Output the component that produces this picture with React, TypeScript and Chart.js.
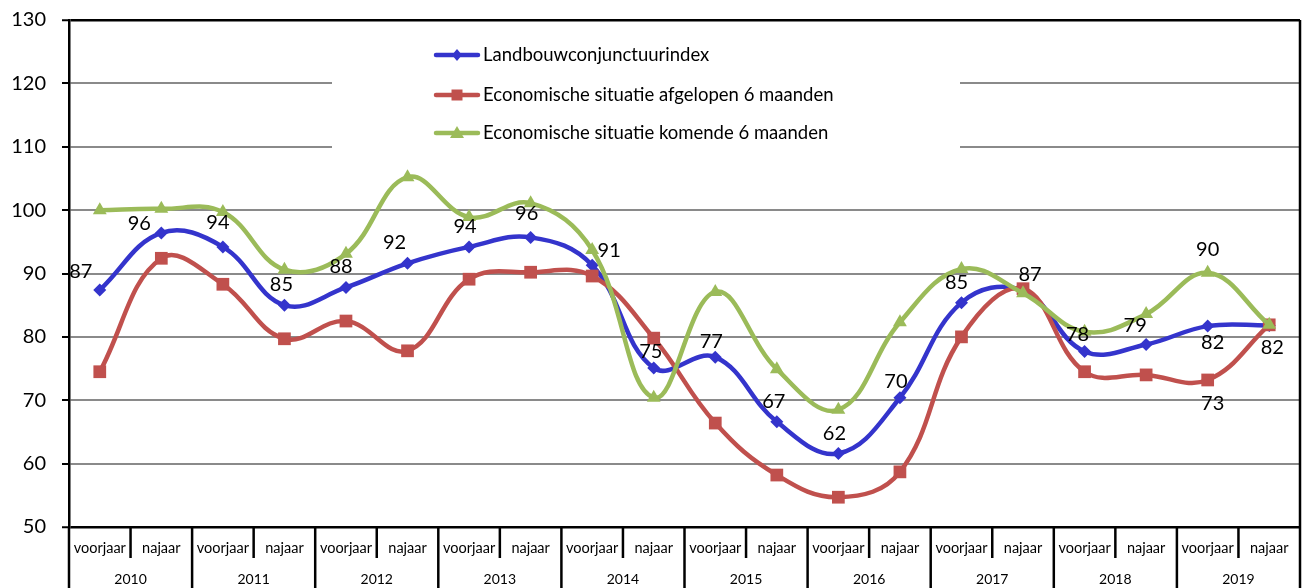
import React, { useEffect, useRef } from 'react';
import { Chart, registerables } from 'chart.js';

Chart.register(...registerables);

// ---------- data ----------
const years = ['2010', '2011', '2012', '2013', '2014', '2015', '2016', '2017', '2018', '2019'];
const seasons = ['voorjaar', 'najaar'];

const seriesNames = [
  'Landbouwconjunctuurindex',
  'Economische situatie afgelopen 6 maanden',
  'Economische situatie komende 6 maanden',
];

const landbouwIndex = [87.4, 96.4, 94.2, 85.0, 87.8, 91.6, 94.2, 95.7, 91.3, 75.1, 76.8, 66.6, 61.6, 70.4, 85.4, 87.3, 77.7, 78.8, 81.7, 81.8];
const afgelopen = [74.5, 92.4, 88.3, 79.7, 82.5, 77.8, 89.1, 90.2, 89.6, 79.8, 66.4, 58.2, 54.7, 58.7, 80.0, 87.6, 74.5, 74.0, 73.2, 81.9];
const komende = [100.0, 100.2, 99.7, 90.6, 93.1, 105.2, 98.9, 101.1, 93.7, 70.4, 87.1, 74.9, 68.5, 82.3, 90.7, 86.9, 80.8, 83.6, 90.1, 81.9];

const yMin = 50;
const yMax = 130;
const yStep = 10;

// ---------- styles ----------
const colors = ['#3434CC', '#C0504D', '#9BBB59'];
const pointStyles = ['rectRot', 'rect', 'triangle'];
const pointRadii = [6.5, 9, 8];
const FONT = 'Lato, "Open Sans", sans-serif';

// data label placement: [datasetIndex, pointIndex, dx, dy]
const labelPlacement: [number, number, number, number][] = [
  [0, 0, -19, -18], [0, 1, -22, -9], [0, 2, -5, -24], [0, 3, -3, -21], [0, 4, -5, -21],
  [0, 5, -13, -21], [0, 6, -4, -20], [0, 7, -4, -24], [0, 8, 17, -15], [0, 9, -3, -16],
  [0, 10, -4, -16], [0, 11, -3, -20], [0, 12, -4, -20], [0, 13, -4, -16], [0, 14, -5, -20],
  [0, 15, 7, -16], [0, 16, -7, -17], [0, 17, -11, -19], [0, 18, 5, 16], [0, 19, 3, 22],
  [2, 18, 0, -23], [1, 18, 5, 24],
];

const legendPlugin = {
  id: 'boxLegend',
  beforeDatasetsDraw(chart: any) {
    const ctx = chart.ctx;
    const ca = chart.chartArea;
    const x0 = ca.left + 263;
    const w = 628;
    ctx.save();
    ctx.fillStyle = '#ffffff';
    ctx.fillRect(x0, 32, w, 146);
    const rows = [55, 95, 133];
    rows.forEach((ry, i) => {
      ctx.strokeStyle = colors[i];
      ctx.lineWidth = 4.5;
      ctx.lineCap = 'round';
      ctx.beginPath();
      ctx.moveTo(x0 + 104, ry);
      ctx.lineTo(x0 + 146, ry);
      ctx.stroke();
      ctx.fillStyle = colors[i];
      const cx = x0 + 125;
      ctx.beginPath();
      if (i === 0) {
        ctx.moveTo(cx, ry - 6); ctx.lineTo(cx + 5, ry); ctx.lineTo(cx, ry + 6); ctx.lineTo(cx - 5, ry);
      } else if (i === 1) {
        ctx.rect(cx - 5.5, ry - 5.5, 11, 11);
      } else {
        ctx.moveTo(cx, ry - 7); ctx.lineTo(cx + 7, ry + 5); ctx.lineTo(cx - 7, ry + 5);
      }
      ctx.closePath();
      ctx.fill();
      ctx.fillStyle = '#000';
      ctx.font = `18.5px ${FONT}`;
      ctx.textAlign = 'left';
      ctx.textBaseline = 'middle';
      ctx.fillText(seriesNames[i], x0 + 151, ry);
    });
    ctx.restore();
  },
};

const labelsPlugin = {
  id: 'pointLabels',
  afterDatasetsDraw(chart: any) {
    const ctx = chart.ctx;
    ctx.save();
    ctx.fillStyle = '#000';
    ctx.font = `20px ${FONT}`;
    ctx.textAlign = 'center';
    ctx.textBaseline = 'middle';
    labelPlacement.forEach(([ds, idx, dx, dy]) => {
      const el = chart.getDatasetMeta(ds).data[idx];
      const v = chart.data.datasets[ds].data[idx] as number;
      ctx.fillText(String(Math.round(v)), el.x + dx, el.y + dy);
    });
    ctx.restore();
  },
};

const frameAndAxisPlugin = {
  id: 'frameAxis',
  afterDraw(chart: any) {
    const ctx = chart.ctx;
    const ca = chart.chartArea;
    const H = chart.height;
    const xs = chart.scales.x;
    const n = chart.data.labels.length;
    const cw = (ca.right - ca.left) / n;
    ctx.save();
    ctx.strokeStyle = '#000';
    ctx.lineWidth = 2.5;
    // right border
    ctx.beginPath();
    ctx.moveTo(ca.right, ca.top);
    ctx.lineTo(ca.right, H);
    ctx.stroke();
    // left extension
    ctx.beginPath();
    ctx.moveTo(ca.left, ca.bottom);
    ctx.lineTo(ca.left, H);
    ctx.stroke();
    // separators
    for (let i = 1; i < n; i++) {
      const x = ca.left + i * cw;
      ctx.beginPath();
      ctx.moveTo(x, ca.bottom);
      ctx.lineTo(x, i % 2 === 0 ? H : ca.bottom + 31);
      ctx.stroke();
    }
    ctx.fillStyle = '#000';
    ctx.textAlign = 'center';
    ctx.textBaseline = 'middle';
    (chart.data.labels as string[][]).forEach((lab, i) => {
      const x = xs.getPixelForValue(i);
      ctx.font = `14.5px ${FONT}`;
      ctx.fillText(lab[0], x, ca.bottom + 21);
      if (i % 2 === 0) {
        ctx.font = `14px ${FONT}`;
        ctx.fillText(lab[1], ca.left + (i + 1) * cw, ca.bottom + 52);
      }
    });
    ctx.restore();
  },
};

export default function App() {
  const ref = useRef<HTMLCanvasElement | null>(null);

  useEffect(() => {
    document.body.style.margin = '0';
    const canvas = ref.current;
    if (!canvas) return;
    const labels = years.flatMap((y) => seasons.map((s) => [s, y]));
    const values = [landbouwIndex, afgelopen, komende];
    const chart = new Chart(canvas, {
      type: 'line',
      data: {
        labels,
        datasets: values.map((d, i) => ({
          label: seriesNames[i],
          data: d,
          borderColor: colors[i],
          backgroundColor: colors[i],
          pointBackgroundColor: colors[i],
          pointBorderColor: colors[i],
          pointStyle: pointStyles[i] as any,
          pointRadius: pointRadii[i],
          pointBorderWidth: 0,
          borderWidth: 4.5,
          tension: 0.4,
          fill: false,
          order: 2 - i,
        })),
      },
      options: {
        animation: false,
        responsive: false,
        layout: { padding: { top: 20, right: 2, bottom: 61, left: 0 } },
        plugins: { legend: { display: false }, tooltip: { enabled: false } },
        scales: {
          x: { display: false, offset: true },
          y: {
            min: yMin,
            max: yMax,
            ticks: { stepSize: yStep, color: '#000', font: { family: FONT, size: 20 }, padding: 16 },
            grid: {
              color: (c: any) => (c.tick && (c.tick.value === yMax || c.tick.value === yMin) ? '#000' : '#8a8a8a'),
              lineWidth: (c: any) => (c.tick && (c.tick.value === yMax || c.tick.value === yMin) ? 2.5 : 2),
              tickColor: '#000',
              tickLength: 7,
              tickWidth: 2,
            },
            border: { display: true, color: '#000', width: 2.5 },
            afterFit: (s: any) => { s.width = 69; s.paddingTop = 0; s.paddingBottom = 0; },
          },
        },
      },
      plugins: [legendPlugin, labelsPlugin, frameAndAxisPlugin],
    });
    return () => chart.destroy();
  }, []);

  return <canvas ref={ref} width={1309} height={588} style={{ display: 'block' }} />;
}
